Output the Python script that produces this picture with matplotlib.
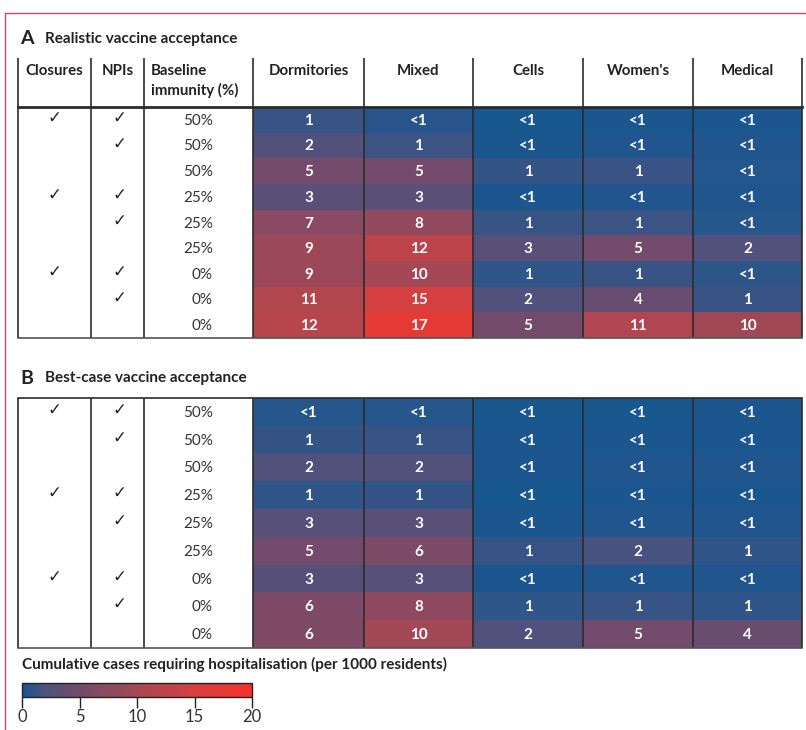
import numpy as np
import matplotlib
matplotlib.use("Agg")
import matplotlib.pyplot as plt
from matplotlib.colors import LinearSegmentedColormap, Normalize
from matplotlib.cm import ScalarMappable

plt.rcParams['font.family'] = ['Lato', 'DejaVu Sans']

# ---- data ----
settings = ["Dormitories", "Mixed", "Cells", "Women's", "Medical"]
closures = [True, False, False, True, False, False, True, False, False]
npis = [True, True, False, True, True, False, True, True, False]
immunity = ["50%", "50%", "50%", "25%", "25%", "25%", "0%", "0%", "0%"]

# cumulative cases requiring hospitalisation per 1000 residents
realistic = np.array([
    [1.2, 0.7, 0.2, 0.3, 0.3],
    [2.3, 1.4, 0.3, 0.4, 0.4],
    [5.2, 5.0, 1.1, 1.3, 0.5],
    [3.0, 3.0, 0.3, 0.4, 0.4],
    [7.2, 8.0, 1.2, 1.4, 0.6],
    [9.2, 12.3, 3.0, 5.0, 2.4],
    [9.0, 10.0, 1.0, 1.3, 0.9],
    [11.3, 14.8, 2.3, 4.2, 1.3],
    [11.8, 17.0, 5.2, 11.0, 9.6],
])
best_case = np.array([
    [0.6, 0.6, 0.2, 0.2, 0.3],
    [1.1, 1.2, 0.3, 0.3, 0.3],
    [2.4, 2.3, 0.3, 0.4, 0.4],
    [1.0, 1.1, 0.2, 0.3, 0.3],
    [2.8, 2.9, 0.3, 0.4, 0.4],
    [5.0, 5.8, 1.2, 1.8, 1.0],
    [2.7, 2.8, 0.3, 0.4, 0.4],
    [6.0, 7.8, 1.0, 1.2, 1.0],
    [6.2, 9.8, 2.2, 5.0, 4.2],
])
cbar_ticks = [0, 5, 10, 15, 20]

# ---- style ----
cmap = LinearSegmentedColormap.from_list("bluered", [
    (0.0, (21/255, 87/255, 145/255)),
    (0.1, (78/255, 82/255, 125/255)),
    (0.25, (115/255, 75/255, 108/255)),
    (0.5, (165/255, 72/255, 85/255)),
    (0.75, (215/255, 63/255, 62/255)),
    (1.0, (245/255, 50/255, 42/255)),
])
norm = Normalize(0, 20)
line_col = "#2b2b2b"
txt_col = "#333333"
head_col = "#222222"

W, H = 806, 730
fig = plt.figure(figsize=(W/100, H/100), dpi=100)
ax = fig.add_axes([0, 0, 1, 1])
ax.set_xlim(0, W)
ax.set_ylim(H, 0)
ax.axis("off")

# pink frame
ax.plot([5, W], [13, 13], color="#c9486b", lw=1)
ax.plot([5, 5], [13, H], color="#c9486b", lw=1)

col_edges = [18, 91, 144, 253, 364, 473, 583, 693, 802]


def label(v):
    return "<1" if v < 1 else "%d" % round(v)


def draw_panel(letter, title, title_y, vals, header_top, rows_top, rows_bot):
    ax.text(20, title_y, letter, fontsize=14, fontweight="bold", color=head_col, va="center")
    ax.text(45, title_y, title, fontsize=11, fontweight="bold", color=head_col, va="center")
    n = len(immunity)
    row_edges = np.linspace(rows_top, rows_bot, n + 1)
    ax.pcolormesh(col_edges[3:], row_edges, vals, cmap=cmap, norm=norm,
                  shading="flat", antialiased=False, edgecolors="none")
    centers = (row_edges[:-1] + row_edges[1:]) / 2
    for i in range(n):
        if closures[i]:
            ax.text(54, centers[i] - 2, "✓", fontsize=12, ha="center", va="center",
                    color=head_col, family=["DejaVu Sans"])
        if npis[i]:
            ax.text(119, centers[i] - 2, "✓", fontsize=12, ha="center", va="center",
                    color=head_col, family=["DejaVu Sans"])
        ax.text(213, centers[i] + 1, immunity[i], fontsize=11, ha="right", va="center", color=txt_col)
        for j in range(len(settings)):
            xc = (col_edges[3 + j] + col_edges[4 + j]) / 2
            ax.text(xc, centers[i] + 1, label(vals[i, j]), fontsize=11, fontweight="bold",
                    ha="center", va="center", color="white")
    # header
    if header_top is not None:
        ax.text((col_edges[0] + col_edges[1]) / 2, 71, "Closures", fontsize=10.8, fontweight="bold",
                ha="center", va="center", color=head_col)
        ax.text((col_edges[1] + col_edges[2]) / 2, 71, "NPIs", fontsize=10.8, fontweight="bold",
                ha="center", va="center", color=head_col)
        ax.text(151, 71, "Baseline", fontsize=10.8, fontweight="bold", ha="left", va="center", color=head_col)
        ax.text(151, 90, "immunity (%)", fontsize=10.8, fontweight="bold", ha="left", va="center", color=head_col)
        for j, s in enumerate(settings):
            xc = (col_edges[3 + j] + col_edges[4 + j]) / 2
            ax.text(xc, 71, s, fontsize=10.8, fontweight="bold", ha="center", va="center", color=head_col)
        vtop = header_top
    else:
        vtop = rows_top
    for x in col_edges:
        ax.plot([x, x], [vtop, rows_bot], color=line_col, lw=1.2, solid_capstyle="butt")
    ax.plot([col_edges[0], col_edges[-1]], [rows_top, rows_top], color=line_col,
            lw=2 if header_top is not None else 1.2)
    ax.plot([col_edges[0], col_edges[-1]], [rows_bot, rows_bot], color="#555555", lw=1.2)


draw_panel("A", "Realistic vaccine acceptance", 39, realistic, 58, 107, 338)
draw_panel("B", "Best-case vaccine acceptance", 378, best_case, None, 398, 648)

# colorbar
ax.text(22, 664, "Cumulative cases requiring hospitalisation (per 1000 residents)",
        fontsize=11, fontweight="bold", ha="left", va="center", color=head_col)
cax = fig.add_axes([22/W, 1 - 697/H, 230/W, 14/H])
sm = ScalarMappable(norm=norm, cmap=cmap)
cb = fig.colorbar(sm, cax=cax, orientation="horizontal", ticks=cbar_ticks)
cb.outline.set_linewidth(1)
cb.outline.set_edgecolor(head_col)
cax.tick_params(axis="x", length=8, width=1, color=head_col, labelsize=12,
                labelcolor=txt_col, pad=1)

fig.savefig("out.png", dpi=100)
